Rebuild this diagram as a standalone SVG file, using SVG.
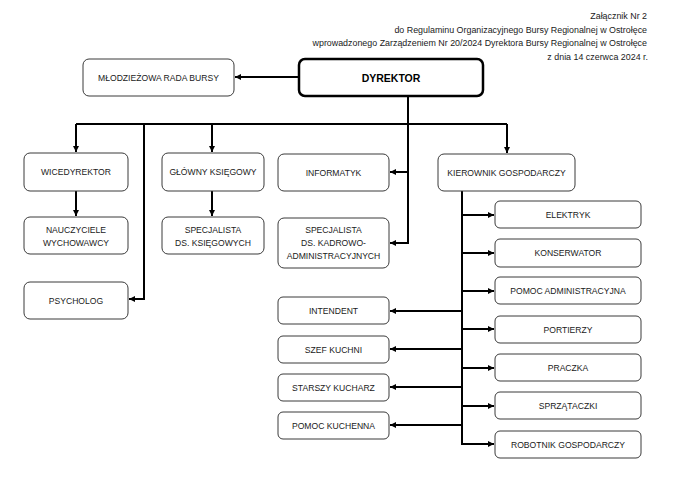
<svg xmlns="http://www.w3.org/2000/svg" width="678" height="480" viewBox="0 0 678 480">
<defs>
<marker id="ah" markerUnits="userSpaceOnUse" markerWidth="7" markerHeight="6" refX="6" refY="3" orient="auto">
<path d="M0,0 L6,3 L0,6 z" fill="#000"/>
</marker>
<style>
.b{fill:#fff;stroke:#3a3a3a;stroke-width:1}
.bd{fill:#fff;stroke:#000;stroke-width:2.5}
.t{font-family:"Liberation Sans",Arial,sans-serif;font-size:8.6px;fill:#1a1a1a;text-anchor:middle}
.tb{font-family:"Liberation Sans",Arial,sans-serif;font-size:10.5px;font-weight:bold;fill:#000;text-anchor:middle}
.h{font-family:"Liberation Sans",Arial,sans-serif;font-size:8.9px;fill:#1a1a1a;text-anchor:end}
.c{fill:none;stroke:#000;stroke-width:2}
.a{fill:none;stroke:#000;stroke-width:2;marker-end:url(#ah)}
</style>
</defs>
<rect width="678" height="480" fill="#fff"/>
<g id="header">
<text class="h" x="647" y="19">Załącznik Nr 2</text>
<text class="h" x="647" y="33">do Regulaminu Organizacyjnego Bursy Regionalnej w Ostrołęce</text>
<text class="h" x="647" y="46">wprowadzonego Zarządzeniem Nr 20/2024 Dyrektora Bursy Regionalnej w Ostrołęce</text>
<text class="h" x="648" y="60">z dnia 14 czerwca 2024 r.</text>
</g>
<g id="connectors">
<path class="a" d="M299,77 H235"/>
<path class="c" d="M408,96 V124 M76,124 H507"/>
<path class="a" d="M76,124 V152"/>
<path class="a" d="M144,124 V299 H129"/>
<path class="a" d="M212,124 V152"/>
<path class="a" d="M408,124 V243 H390"/>
<path class="a" d="M408,172 H390"/>
<path class="a" d="M507,124 V153"/>
<path class="a" d="M76,191 V216"/>
<path class="a" d="M212,191 V216"/>
<path class="a" d="M462,191 V444 H494"/>
<path class="a" d="M462,215 H494"/>
<path class="a" d="M462,253 H494"/>
<path class="a" d="M462,291 H494"/>
<path class="a" d="M462,329 H494"/>
<path class="a" d="M462,368 H494"/>
<path class="a" d="M462,406 H494"/>
<path class="a" d="M462,311 H390"/>
<path class="a" d="M462,349 H390"/>
<path class="a" d="M462,387 H390"/>
<path class="a" d="M462,425 H390"/>
</g>
<g id="mlodziezowa-rada"><rect class="b" x="83" y="59" width="151" height="37" rx="6"/><text class="t" x="158.5" y="80.5">MŁODZIEŻOWA RADA BURSY</text></g>
<g id="dyrektor"><rect class="bd" x="299" y="59" width="184" height="37" rx="6"/><text class="tb" x="391" y="81.5">DYREKTOR</text></g>
<g id="wicedyrektor"><rect class="b" x="24" y="153" width="104" height="38" rx="6"/><text class="t" x="76" y="175">WICEDYREKTOR</text></g>
<g id="nauczyciele"><rect class="b" x="24" y="217" width="104" height="37" rx="6"/><text class="t" x="76" y="233">NAUCZYCIELE</text><text class="t" x="76" y="245.5">WYCHOWAWCY</text></g>
<g id="psycholog"><rect class="b" x="24" y="282" width="104" height="37" rx="6"/><text class="t" x="76" y="303.5">PSYCHOLOG</text></g>
<g id="glowny-ksiegowy"><rect class="b" x="162" y="153" width="102" height="38" rx="6"/><text class="t" x="213" y="175">GŁÓWNY KSIĘGOWY</text></g>
<g id="specjalista-ksiegowych"><rect class="b" x="162" y="217" width="102" height="37" rx="6"/><text class="t" x="213" y="233">SPECJALISTA</text><text class="t" x="213" y="245.5">DS. KSIĘGOWYCH</text></g>
<g id="informatyk"><rect class="b" x="278" y="154" width="111" height="37" rx="6"/><text class="t" x="333.5" y="175.5">INFORMATYK</text></g>
<g id="specjalista-kadrowo"><rect class="b" x="278" y="218" width="111" height="50" rx="6"/><text class="t" x="333.5" y="233">SPECJALISTA</text><text class="t" x="333.5" y="246">DS. KADROWO-</text><text class="t" x="333.5" y="258.5">ADMINISTRACYJNYCH</text></g>
<g id="kierownik"><rect class="b" x="438" y="154" width="137" height="37" rx="6"/><text class="t" x="506.5" y="175.5">KIEROWNIK GOSPODARCZY</text></g>
<g id="elektryk"><rect class="b" x="495" y="201" width="146" height="27" rx="5"/><text class="t" x="568" y="217.5">ELEKTRYK</text></g>
<g id="konserwator"><rect class="b" x="495" y="239" width="146" height="28" rx="5"/><text class="t" x="568" y="256">KONSERWATOR</text></g>
<g id="pomoc-administracyjna"><rect class="b" x="495" y="277" width="146" height="27" rx="5"/><text class="t" x="568" y="293.5">POMOC ADMINISTRACYJNA</text></g>
<g id="portierzy"><rect class="b" x="495" y="316" width="146" height="27" rx="5"/><text class="t" x="568" y="332.5">PORTIERZY</text></g>
<g id="praczka"><rect class="b" x="495" y="354" width="146" height="27" rx="5"/><text class="t" x="568" y="370.5">PRACZKA</text></g>
<g id="sprzataczki"><rect class="b" x="495" y="392" width="146" height="27" rx="5"/><text class="t" x="568" y="408.5">SPRZĄTACZKI</text></g>
<g id="robotnik"><rect class="b" x="495" y="431" width="146" height="27" rx="5"/><text class="t" x="568" y="447.5">ROBOTNIK GOSPODARCZY</text></g>
<g id="intendent"><rect class="b" x="278" y="297" width="111" height="27" rx="5"/><text class="t" x="333.5" y="313.5">INTENDENT</text></g>
<g id="szef-kuchni"><rect class="b" x="278" y="336" width="111" height="27" rx="5"/><text class="t" x="333.5" y="352.5">SZEF KUCHNI</text></g>
<g id="starszy-kucharz"><rect class="b" x="278" y="374" width="111" height="27" rx="5"/><text class="t" x="333.5" y="390.5">STARSZY KUCHARZ</text></g>
<g id="pomoc-kuchenna"><rect class="b" x="278" y="412" width="111" height="27" rx="5"/><text class="t" x="333.5" y="428.5">POMOC KUCHENNA</text></g>
</svg>
